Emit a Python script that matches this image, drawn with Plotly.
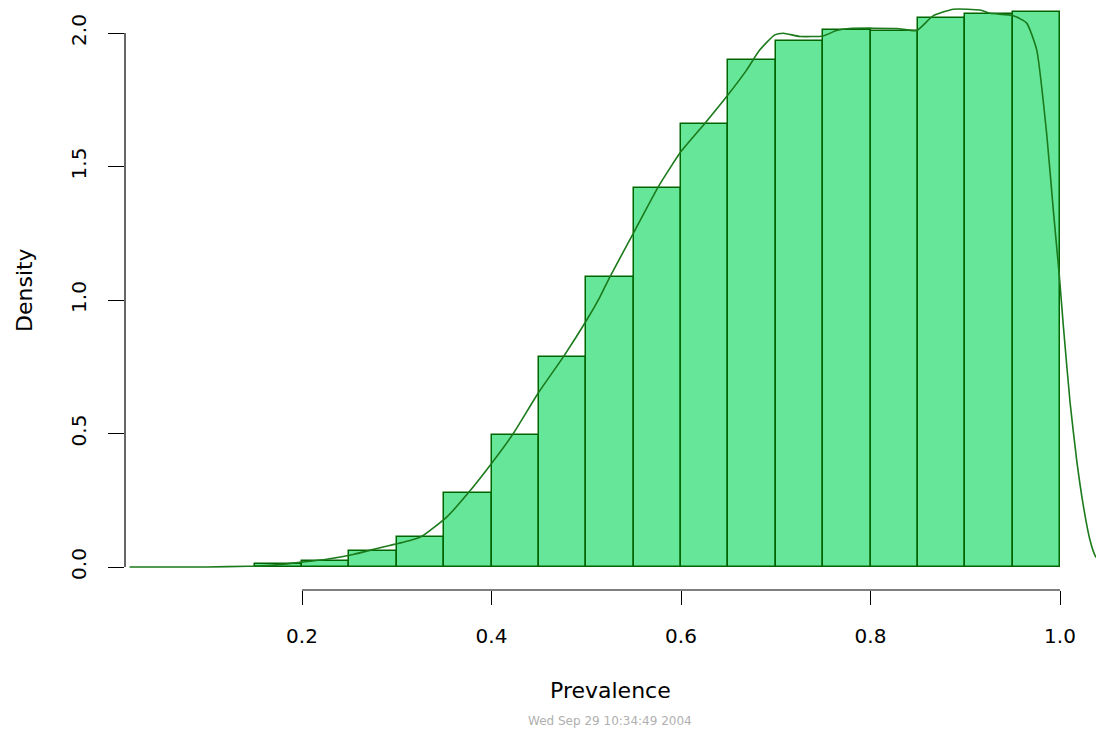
import plotly.graph_objects as go

# ---- data ----
bin_left = [0.15, 0.20, 0.25, 0.30, 0.35, 0.40, 0.45, 0.50, 0.55, 0.60,
            0.65, 0.70, 0.75, 0.80, 0.85, 0.90, 0.95]
bin_density = [0.010, 0.022, 0.060, 0.112, 0.277, 0.494, 0.788, 1.087, 1.419, 1.659,
               1.899, 1.971, 2.011, 2.009, 2.055, 2.070, 2.080]
bin_width = 0.05

kde_x = [0.018, 0.10, 0.143, 0.170, 0.194, 0.226, 0.254, 0.2823, 0.314, 0.326,
         0.353, 0.376, 0.400, 0.423, 0.449, 0.476, 0.5005, 0.5145, 0.525, 0.5515,
         0.576, 0.600, 0.6253, 0.648, 0.669, 0.683, 0.699, 0.708, 0.7256, 0.750,
         0.764, 0.778, 0.8276, 0.8487, 0.866, 0.8875, 0.9156, 0.926, 0.9507, 0.9648,
         0.9754, 0.986, 0.993, 0.9993, 1.0035, 1.0106, 1.0176, 1.0246, 1.0317, 1.037, 1.042]
kde_y = [0.0, 0.0, 0.003, 0.007, 0.016, 0.029, 0.047, 0.072, 0.099, 0.114,
         0.188, 0.28, 0.388, 0.50, 0.65, 0.788, 0.925, 1.012, 1.087, 1.262,
         1.424, 1.556, 1.662, 1.761, 1.86, 1.936, 1.993, 1.999, 1.987, 1.989,
         2.009, 2.017, 2.017, 2.009, 2.064, 2.089, 2.086, 2.074, 2.065, 2.037,
         1.937, 1.62, 1.334, 1.09, 0.904, 0.617, 0.40, 0.23, 0.10, 0.043, 0.02]

x_ticks = [0.2, 0.4, 0.6, 0.8, 1.0]
x_ticklabels = ["0.2", "0.4", "0.6", "0.8", "1.0"]
y_ticks = [0.0, 0.5, 1.0, 1.5, 2.0]
y_ticklabels = ["0.0", "0.5", "1.0", "1.5", "2.0"]

x_title = "Prevalence"
y_title = "Density"
footer = "Wed Sep 29 10:34:49 2004"

# ---- layout geometry (pixels) ----
W, H = 1096, 731
L, R, T, B = 125, 0, 0, 141
plot_w = W - L - R
plot_h = H - T - B

def px_x(p):
    return (p - L) / plot_w

def px_y(p):
    return (H - B - p) / plot_h

FONT = "DejaVu Sans"

fig = go.Figure()
fig.add_trace(go.Bar(
    x=[b + bin_width / 2 for b in bin_left],
    y=bin_density,
    width=[bin_width] * len(bin_left),
    marker=dict(color="#66e699", line=dict(color="#006400", width=1.5)),
    hoverinfo="skip",
))
fig.add_trace(go.Scatter(
    x=kde_x, y=kde_y, mode="lines",
    line=dict(color="#1b7a1b", width=1.6, shape="spline", smoothing=0.5),
    hoverinfo="skip",
))

fig.update_layout(
    width=W, height=H,
    margin=dict(l=L, r=R, t=T, b=B, pad=0),
    paper_bgcolor="white", plot_bgcolor="white",
    showlegend=False,
    bargap=0,
    font=dict(family=FONT, color="black"),
    xaxis=dict(
        range=[0.01319, 1.03799], showgrid=False, zeroline=False, showline=False,
        tickmode="array", tickvals=x_ticks, ticktext=x_ticklabels,
        ticks="outside", ticklen=14, tickwidth=1.2, tickcolor="black",
        tickfont=dict(family=FONT, size=20, color="black"),
        ticklabelstandoff=14,
    ),
    yaxis=dict(
        range=[-0.08614, 2.12360], showgrid=False, zeroline=False, showline=False,
        tickmode="array", tickvals=y_ticks, ticktext=y_ticklabels,
        ticks="outside", ticklen=16, tickwidth=1.2, tickcolor="black",
        tickangle=-90,
        tickfont=dict(family=FONT, size=20, color="black"),
        ticklabelstandoff=14,
    ),
    shapes=[
        dict(type="line", xref="paper", yref="y", x0=0, x1=0, y0=0, y1=2,
             line=dict(color="black", width=1.2)),
        dict(type="line", xref="x", yref="paper", x0=0.2, x1=1.0, y0=0, y1=0,
             line=dict(color="black", width=1.2)),
    ],
    annotations=[
        dict(text=x_title, xref="paper", yref="paper", x=px_x(610), y=px_y(690),
             showarrow=False, font=dict(family=FONT, size=22, color="black"),
             xanchor="center", yanchor="middle"),
        dict(text=y_title, xref="paper", yref="paper", x=px_x(24), y=px_y(290),
             showarrow=False, textangle=-90, font=dict(family=FONT, size=22, color="black"),
             xanchor="center", yanchor="middle"),
        dict(text=footer, xref="paper", yref="paper", x=px_x(610), y=px_y(721),
             showarrow=False, font=dict(family=FONT, size=12, color="#b0b0b0"),
             xanchor="center", yanchor="middle"),
    ],
)

fig.write_html("out.html")
